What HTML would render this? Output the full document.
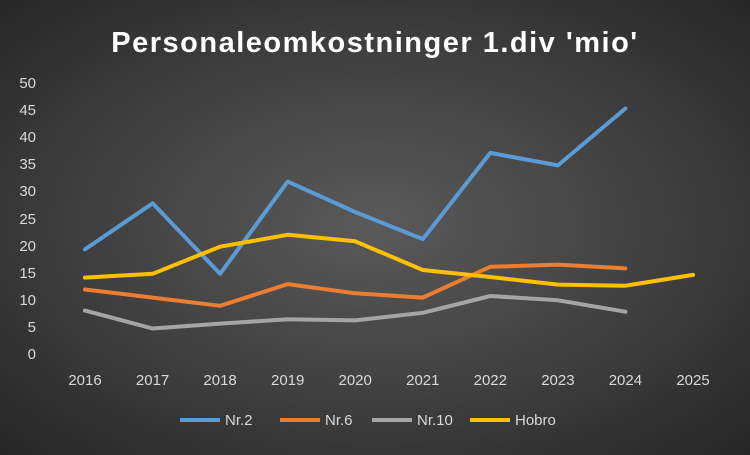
<!DOCTYPE html>
<html><head><meta charset="utf-8"><style>
html,body{margin:0;padding:0;}
body{width:750px;height:450px;overflow:hidden;background:radial-gradient(ellipse at center,#5a5a5a 0%,#3f3f3f 55%,#262626 100%);font-family:"Liberation Sans",sans-serif;}
</style></head><body>
<svg width="750" height="450" xmlns="http://www.w3.org/2000/svg" font-family="Liberation Sans, sans-serif">
<text x="375" y="52" text-anchor="middle" fill="#fff" font-size="29" font-weight="bold" letter-spacing="1.5">Personaleomkostninger 1.div 'mio'</text>
<g fill="#d9d9d9" font-size="15" text-anchor="end">
<text x="36" y="359">0</text><text x="36" y="332">5</text><text x="36" y="305">10</text><text x="36" y="278">15</text><text x="36" y="251">20</text><text x="36" y="224">25</text><text x="36" y="196">30</text><text x="36" y="169">35</text><text x="36" y="142">40</text><text x="36" y="115">45</text><text x="36" y="88">50</text>
</g>
<g fill="#d9d9d9" font-size="15" text-anchor="middle">
<text x="85" y="385">2016</text><text x="152.6" y="385">2017</text><text x="220.1" y="385">2018</text><text x="287.7" y="385">2019</text><text x="355.2" y="385">2020</text><text x="422.8" y="385">2021</text><text x="490.3" y="385">2022</text><text x="557.9" y="385">2023</text><text x="625.4" y="385">2024</text><text x="693" y="385">2025</text>
</g>
<g fill="none" stroke-width="4" stroke-linejoin="round" stroke-linecap="round">
<polyline stroke="#5B9BD5" points="85,249.4 152.6,203.3 220.1,273.8 287.7,181.6 355.2,212 422.8,239.1 490.3,152.9 557.9,165.4 625.4,108.5"/>
<polyline stroke="#ED7D31" points="85,289.5 152.6,297.6 220.1,305.8 287.7,284.1 355.2,293.3 422.8,297.6 490.3,266.8 557.9,264.6 625.4,268.4"/>
<polyline stroke="#A5A5A5" points="85,310.6 152.6,328.5 220.1,323.6 287.7,319.3 355.2,320.4 422.8,312.8 490.3,296 557.9,300.3 625.4,311.7"/>
<polyline stroke="#FFC000" points="85,277.6 152.6,273.8 220.1,246.7 287.7,234.8 355.2,241.3 422.8,270 490.3,277 557.9,284.6 625.4,285.7 693,274.9"/>
</g>
<g stroke-width="4">
<line x1="180" y1="420" x2="220" y2="420" stroke="#5B9BD5"/>
<line x1="280" y1="420" x2="320" y2="420" stroke="#ED7D31"/>
<line x1="372" y1="420" x2="412" y2="420" stroke="#A5A5A5"/>
<line x1="470" y1="420" x2="510" y2="420" stroke="#FFC000"/>
</g>
<g fill="#d9d9d9" font-size="15">
<text x="225" y="425">Nr.2</text><text x="325" y="425">Nr.6</text><text x="417" y="425">Nr.10</text><text x="515" y="425">Hobro</text>
</g>
</svg>
</body></html>
